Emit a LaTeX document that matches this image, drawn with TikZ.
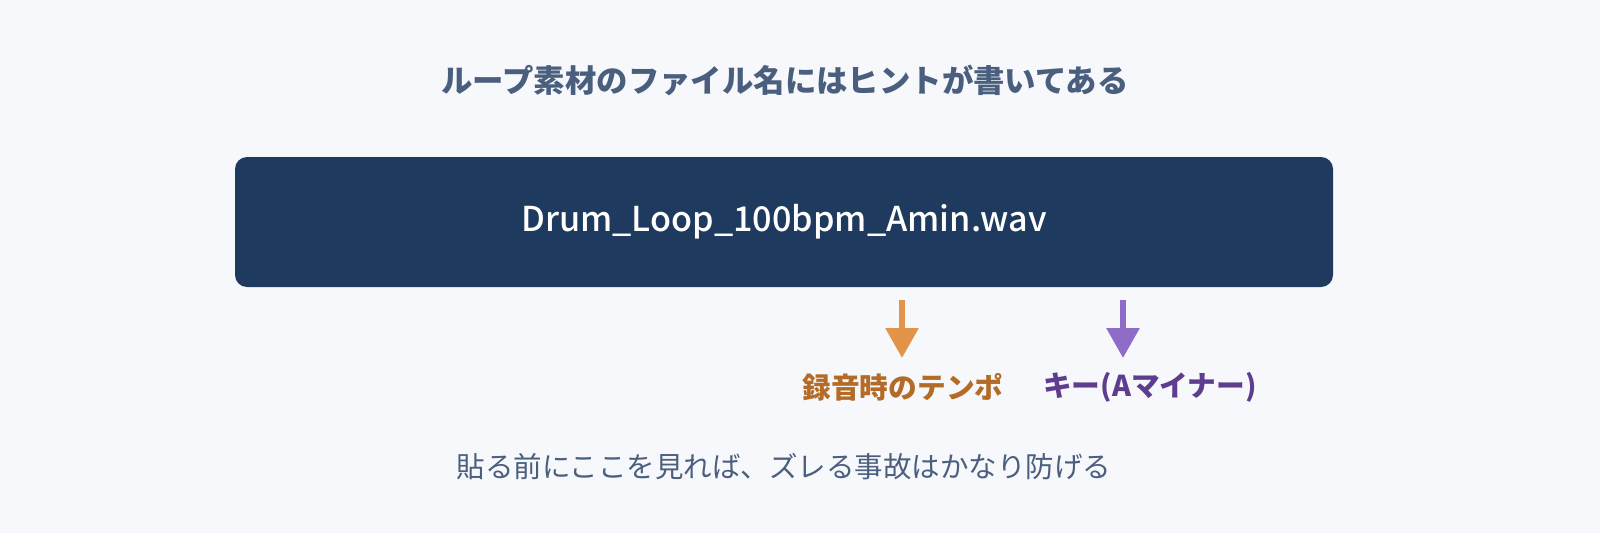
\documentclass[tikz,border=0pt]{standalone}
\usepackage{fontspec}
\newfontfamily\jp{Noto Sans CJK JP}
\newfontfamily\jpm{Noto Sans CJK JP Medium}
\usetikzlibrary{arrows.meta,positioning}
\definecolor{bgc}{HTML}{F7F8FC}
\definecolor{navy}{HTML}{1F3A5F}
\definecolor{slate}{HTML}{4A5F7E}
\definecolor{orangearr}{HTML}{E3944B}
\definecolor{orangetxt}{HTML}{B36B26}
\definecolor{purplearr}{HTML}{8E6CC8}
\definecolor{purpletxt}{HTML}{5E3D8F}
\tikzstyle{title}=[font=\jp\bfseries\fontsize{31.4}{36}\selectfont,text=slate]
\tikzstyle{filebox}=[rectangle,rounded corners=12pt,fill=navy,
minimum width=1098pt,minimum height=130pt,text=white,
font=\jpm\fontsize{34.2}{40}\selectfont]
\tikzstyle{part}=[font=\jp\bfseries\fontsize{28.7}{33}\selectfont]
\tikzstyle{note}=[font=\jp\fontsize{28.5}{33}\selectfont,text=slate]
\tikzstyle{hint}=[line width=6pt,-{Triangle[length=30pt,width=32pt]}]

\begin{document}
\begin{tikzpicture}[x=1pt,y=-1pt]
            % background
            \useasboundingbox (0,0) rectangle (1600,533);
            \fill[bgc] (0,0) rectangle (1600,533);

            % title and file name
            \node[title] (head) at (785,80) {ループ素材のファイル名にはヒントが書いてある};
            \node[filebox] (file) at (784,222) {Drum\_Loop\_100bpm\_Amin.wav};

            % parts of the name
            \node[part,text=orangetxt] (tempo) at (903,387) {録音時のテンポ};
            \node[part,text=purpletxt] (key) at (1150,387) {キー(Aマイナー)};

            \coordinate (a1) at (902,300);
            \coordinate (b1) at (902,358);
            \coordinate (a2) at (1123,300);
            \coordinate (b2) at (1123,358);

            \draw[hint,orangearr] (a1) -- (b1);
            \draw[hint,purplearr] (a2) -- (b2);

            % bottom note
            \node[note] (tip) at (784,467) {貼る前にここを見れば、ズレる事故はかなり防げる};
        \end{tikzpicture}
\end{document}
